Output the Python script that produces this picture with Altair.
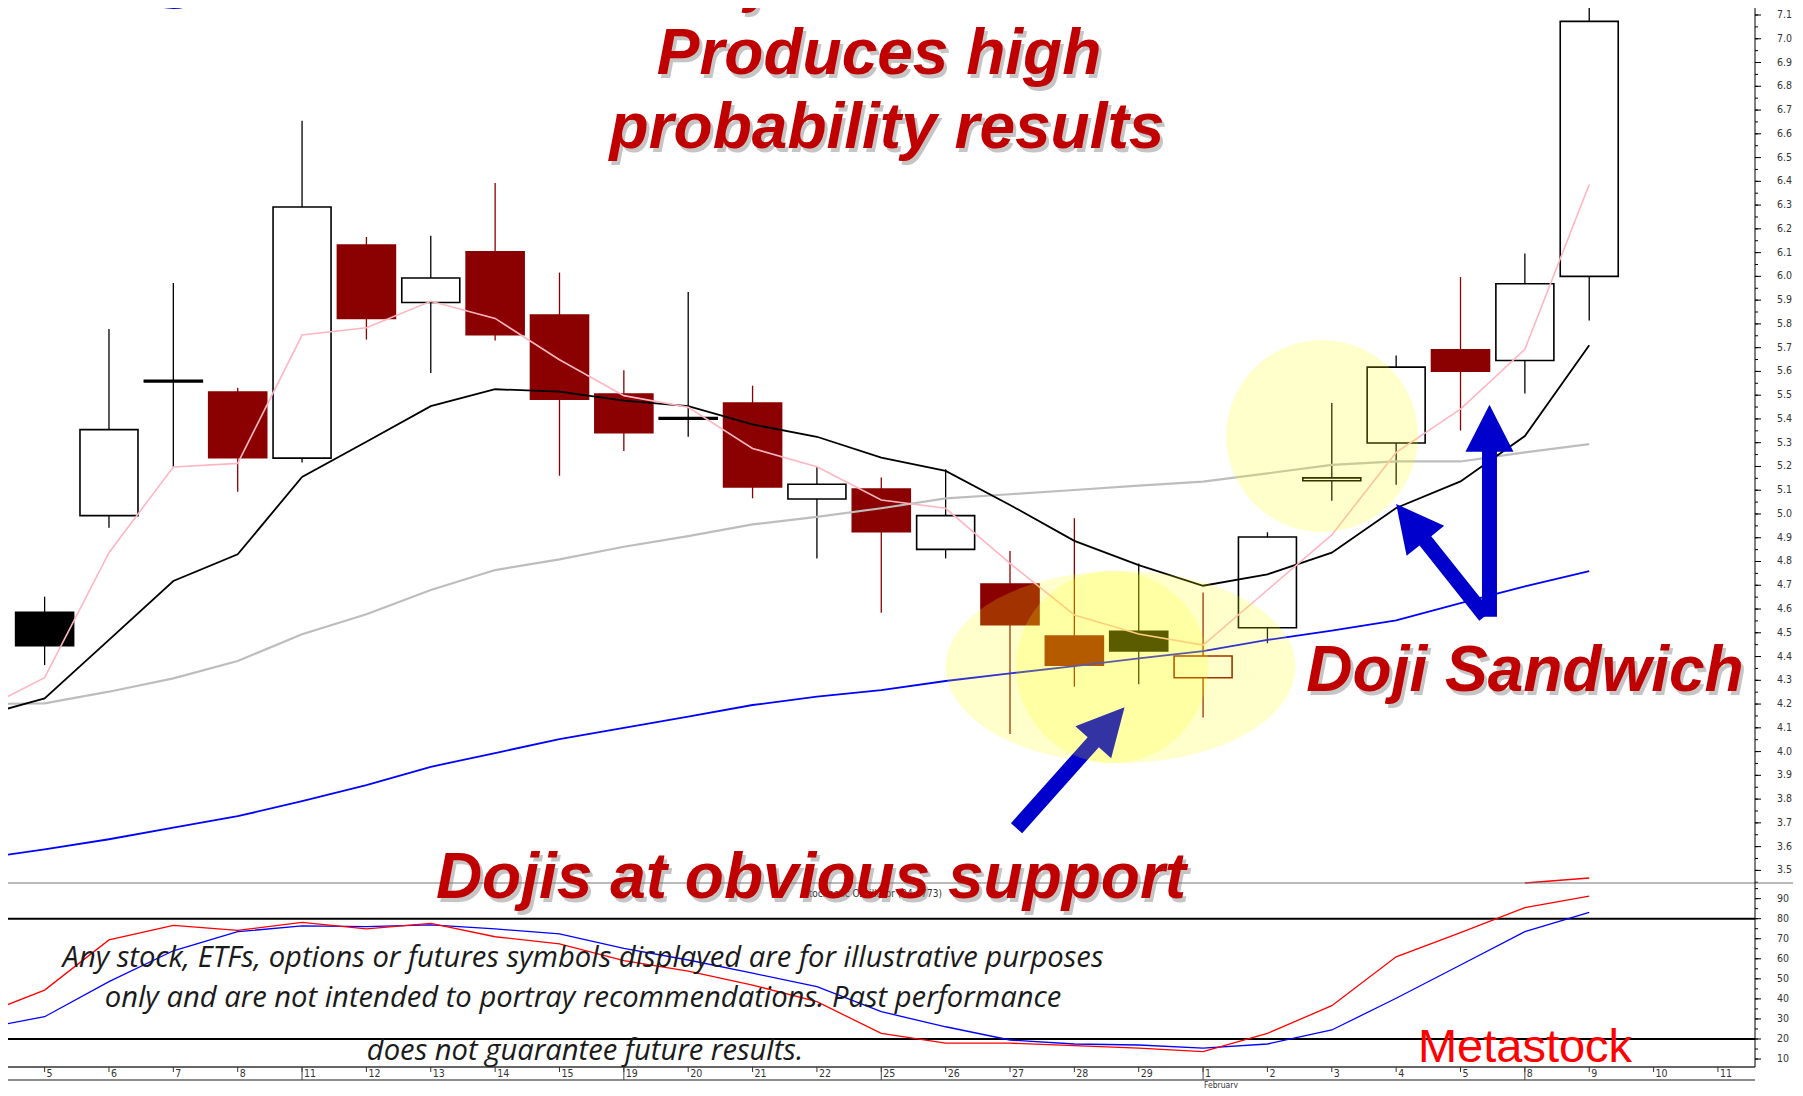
import math
import altair as alt
import pandas as pd

# ---------------- data ----------------
day_labels = ["5", "6", "7", "8", "11", "12", "13", "14", "15", "19", "20", "21", "22",
              "25", "26", "27", "28", "29", "1", "2", "3", "4", "5", "8", "9", "10", "11"]
week_starts = [4, 9, 13, 18, 23]

opens = [4.586, 4.993, 5.556, 5.513, 5.235, 6.132, 5.890, 6.103, 5.837, 5.505, 5.399, 5.467, 5.063,
         5.105, 4.851, 4.705, 4.486, 4.506, 4.311, 4.521, 5.140, 5.299, 5.691, 5.646, 6.000]
highs = [4.652, 5.778, 5.972, 5.531, 6.655, 6.166, 6.171, 6.393, 6.016, 5.605, 5.934, 5.540, 5.199,
         5.154, 5.188, 4.844, 4.982, 4.792, 4.669, 4.923, 5.467, 5.667, 5.997, 6.096, 7.139]
lows = [4.364, 4.942, 5.199, 5.094, 5.217, 5.734, 5.593, 5.730, 5.161, 5.265, 5.325, 5.066, 4.813,
        4.584, 4.813, 4.074, 4.273, 4.283, 4.143, 4.456, 5.056, 5.123, 5.351, 5.507, 5.814]
closes = [4.446, 5.355, 5.563, 5.237, 6.292, 5.823, 5.993, 5.754, 5.483, 5.342, 5.406, 5.114, 5.125,
          4.925, 4.993, 4.534, 4.364, 4.423, 4.402, 4.903, 5.152, 5.618, 5.601, 5.969, 7.073]

ma_idx = list(range(-1, 25))
ma_pink = [4.173, 4.311, 4.837, 5.198, 5.213, 5.753, 5.784, 5.895, 5.823, 5.649, 5.498, 5.449, 5.276,
           5.199, 5.059, 5.024, 4.792, 4.575, 4.495, 4.448, 4.680, 4.912, 5.259, 5.441, 5.693, 6.387]
ma_black = [4.149, 4.224, 4.470, 4.718, 4.830, 5.156, 5.304, 5.454, 5.525, 5.515, 5.477, 5.454, 5.377,
            5.325, 5.237, 5.181, 5.038, 4.887, 4.785, 4.698, 4.746, 4.837, 5.025, 5.137, 5.328, 5.710]
ma_gray = [4.200, 4.203, 4.252, 4.308, 4.381, 4.494, 4.578, 4.680, 4.764, 4.809, 4.862, 4.907, 4.956,
           4.988, 5.024, 5.066, 5.083, 5.101, 5.119, 5.136, 5.171, 5.207, 5.221, 5.221, 5.259, 5.294]
ma_blue = [3.550, 3.588, 3.631, 3.680, 3.728, 3.791, 3.859, 3.936, 3.994, 4.052, 4.100, 4.147, 4.196,
           4.231, 4.259, 4.297, 4.329, 4.360, 4.392, 4.423, 4.470, 4.509, 4.552, 4.625, 4.695, 4.759]
low_red_idx = [23, 24]
low_red = [3.447, 3.468]

stoch_k = [31.8, 44.4, 69.4, 76.7, 74.2, 78.2, 74.9, 77.7, 71.0, 67.4, 59.1, 53.9, 46.9, 38.6,
           22.8, 17.9, 17.9, 16.7, 15.4, 13.7, 22.8, 36.6, 61.0, 73.0, 85.5, 91.3]
stoch_d = [25.1, 31.1, 48.6, 64.0, 73.5, 76.4, 76.0, 76.9, 74.9, 72.4, 65.2, 59.4, 52.8, 46.1,
           33.6, 26.1, 19.5, 17.5, 17.0, 15.4, 17.5, 24.5, 40.3, 56.9, 73.5, 83.2]

price_labels = [round(3.5 + 0.1 * k, 1) for k in range(37)]
price_minor = [round(3.45 + 0.05 * k, 2) for k in range(74)]
stoch_labels = [10, 20, 30, 40, 50, 60, 70, 80, 90]
stoch_minor = [5 * k for k in range(2, 20)]

# ---------------- layout ----------------
W, H = 1747, 1059
xs = alt.Scale(domain=[-0.4913, 26.498], nice=False, zero=False)
ps = alt.Scale(domain=[2.6725, 7.1295], nice=False, zero=False)
ss = alt.Scale(domain=[6.03, 534.2], nice=False, zero=False)
NARROW = "Liberation Sans Narrow, DejaVu Sans Condensed, Liberation Sans, sans-serif"
RED_TXT = "#C00000"
DARKRED = "#8B0000"

candles = pd.DataFrame({"i": list(range(len(opens))), "o": opens, "h": highs, "l": lows, "c": closes})
cols, fills = [], []
for k in range(len(closes)):
    up = k == 0 or closes[k] >= closes[k - 1]
    col = "#000000" if up else DARKRED
    cols.append(col)
    fills.append(col if closes[k] < opens[k] else "#FFFFFF")
candles["col"] = cols
candles["fill"] = fills
candles["lo"] = candles[["o", "c"]].min(axis=1)
candles["hi"] = candles[["o", "c"]].max(axis=1)

X = lambda: alt.X("i:Q", scale=xs, axis=None)

wicks = alt.Chart(candles).mark_rule(strokeWidth=1.3, clip=True).encode(
    x=X(), y=alt.Y("l:Q", scale=ps, axis=None), y2="h:Q",
    color=alt.Color("col:N", scale=None))
bodies = alt.Chart(candles).mark_bar(size=58, strokeWidth=1.6, clip=True).encode(
    x=X(), y=alt.Y("lo:Q", scale=ps, axis=None), y2="hi:Q",
    fill=alt.Fill("fill:N", scale=None), stroke=alt.Stroke("col:N", scale=None))


def line(idx, vals, scale, color, width):
    df = pd.DataFrame({"i": idx, "v": vals})
    return alt.Chart(df).mark_line(color=color, strokeWidth=width, clip=True).encode(
        x=X(), y=alt.Y("v:Q", scale=scale, axis=None))


price_lines = [
    line(ma_idx, ma_gray, ps, "#BDBDBD", 2.2),
    line(ma_idx, ma_blue, ps, "#0000FF", 1.8),
    line(ma_idx, ma_black, ps, "#000000", 1.8),
    line(ma_idx, ma_pink, ps, "#FFB6C1", 1.6),
    line(low_red_idx, low_red, ps, "#FF0000", 1.6),
]


def ellipse_path(ratio, n=72):
    pts = [(math.cos(2 * math.pi * k / n), ratio * math.sin(2 * math.pi * k / n)) for k in range(n)]
    return "M" + " L".join(f"{a:.4f},{b:.4f}" for a, b in pts) + " Z"


def blob(ci, cp, rx, ry, opacity=0.2):
    df = pd.DataFrame({"i": [ci], "p": [cp]})
    return alt.Chart(df).mark_point(shape=ellipse_path(ry / rx), size=4 * rx * rx, filled=True,
                                    color="#FFFF00", opacity=opacity, strokeWidth=0).encode(
        x=X(), y=alt.Y("p:Q", scale=ps, axis=None))


def arrow_path(tx, ty, head_len, head_half, shaft_half):
    L = math.hypot(tx, ty)
    ux, uy = -tx / L, -ty / L
    nx, ny = -uy, ux
    bx, by = -ux * head_len, -uy * head_len
    pts = [(0, 0), (bx + nx * head_half, by + ny * head_half), (bx + nx * shaft_half, by + ny * shaft_half),
           (tx + nx * shaft_half, ty + ny * shaft_half), (tx - nx * shaft_half, ty - ny * shaft_half),
           (bx - nx * shaft_half, by - ny * shaft_half), (bx - nx * head_half, by - ny * head_half)]
    return "M" + " L".join(f"{a:.2f},{b:.2f}" for a, b in pts) + " Z"


def arrow(ci, cp, tail_dx, tail_dy):
    df = pd.DataFrame({"i": [ci], "p": [cp]})
    return alt.Chart(df).mark_point(shape=arrow_path(tail_dx, tail_dy, 47, 24, 7.5), size=4, filled=True,
                                    color="#0000CC", opacity=1, strokeWidth=0).encode(
        x=X(), y=alt.Y("p:Q", scale=ps, axis=None))


annot = [
    blob(16.717, 4.356, 175, 96),
    arrow(16.78, 4.187, -108, 121),
    blob(16.586, 4.356, 96, 96),
    blob(19.85, 5.328, 96, 96),
    arrow(22.45, 5.460, 0, 212),
    arrow(21.0, 5.042, 89, 112),
]


def yaxis(labels, minor, scale, fmt):
    lab = pd.DataFrame({"v": labels, "t": [fmt(v) for v in labels]})
    mn = pd.DataFrame({"v": minor})
    major = alt.Chart(lab).mark_rule(color="#000000", strokeWidth=1).encode(
        x=alt.value(W), x2=alt.value(W + 6), y=alt.Y("v:Q", scale=scale, axis=None))
    minor_r = alt.Chart(mn).mark_rule(color="#000000", strokeWidth=1).encode(
        x=alt.value(W), x2=alt.value(W + 3), y=alt.Y("v:Q", scale=scale, axis=None))
    texts = alt.Chart(lab).mark_text(align="left", baseline="middle", font=NARROW, fontSize=10.5,
                                     color="#333333").encode(
        x=alt.value(W + 22), y=alt.Y("v:Q", scale=scale, axis=None), text="t:N")
    return [major, minor_r, texts]


price_layer = alt.layer(wicks, bodies, *price_lines, *annot,
                        *yaxis(price_labels, price_minor, ps, lambda v: f"{v:.1f}"))

level = pd.DataFrame({"v": [80, 20]})
levels = alt.Chart(level).mark_rule(color="#000000", strokeWidth=2).encode(
    x=alt.value(0), x2=alt.value(W), y=alt.Y("v:Q", scale=ss, axis=None))
stoch_layer = alt.layer(
    levels,
    line(ma_idx, stoch_d, ss, "#0000FF", 1.3),
    line(ma_idx, stoch_k, ss, "#FF0000", 1.3),
    *yaxis(stoch_labels, stoch_minor, ss, lambda v: f"{v}"),
)

# ---------------- x axis (drawn) ----------------
xl = pd.DataFrame({"i": list(range(len(day_labels))), "t": day_labels})
x_ticks = alt.Chart(xl).mark_rule(color="#333333", strokeWidth=1).encode(
    x=X(), y=alt.value(H), y2=alt.value(H + 5))
x_text = alt.Chart(xl).mark_text(align="left", baseline="top", dx=2, font=NARROW, fontSize=10.5,
                                 color="#333333").encode(x=X(), y=alt.value(H + 2), text="t:N")
wk = pd.DataFrame({"i": week_starts})
wk_lines = alt.Chart(wk).mark_rule(color="#444444", strokeWidth=1).encode(
    x=X(), y=alt.value(H), y2=alt.value(H + 13))
month = alt.Chart(pd.DataFrame({"i": [18], "t": ["February"]})).mark_text(
    align="left", baseline="top", dx=1, font=NARROW, fontSize=8.5, color="#333333").encode(
    x=X(), y=alt.value(H + 13.5), text="t:N")

frame = alt.Chart(pd.DataFrame({"a": [0]})).mark_rule(color="#666666", strokeWidth=2).encode(
    x=alt.value(0), x2=alt.value(W), y=alt.value(H))
frame_bottom = alt.Chart(pd.DataFrame({"a": [0]})).mark_rule(color="#666666", strokeWidth=1.5).encode(
    x=alt.value(0), x2=alt.value(W), y=alt.value(H + 13))
right_line = alt.Chart(pd.DataFrame({"a": [0]})).mark_rule(color="#000000", strokeWidth=1).encode(
    x=alt.value(W), y=alt.value(0), y2=alt.value(H))
separator = alt.Chart(pd.DataFrame({"a": [0]})).mark_rule(color="#777777", strokeWidth=1).encode(
    x=alt.value(0), x2=alt.value(W + 38), y=alt.value(875))


# ---------------- texts ----------------
def txt(s, x, y, size, color, weight="normal", style="normal", font="Liberation Sans",
        align="center", opacity=1.0):
    return alt.Chart(pd.DataFrame({"t": [s]})).mark_text(
        align=align, baseline="alphabetic", fontSize=size, font=font, fontWeight=weight,
        fontStyle=style, color=color, opacity=opacity).encode(
        x=alt.value(x), y=alt.value(y), text="t:N")


def red(s, x, y):
    return [txt(s, x + 3, y + 4, 64, "#7F7F7F", "bold", "italic", opacity=0.45),
            txt(s, x, y, 64, RED_TXT, "bold", "italic")]


DISC = "Open Sans, Lato, sans-serif"
DS = 29.2
texts = [
    txt("Stochastic Oscillator (94.4773)", 934, 889, 10, "#333333", font=NARROW, align="right"),
    txt("ONEK", 282, 0, 110, "#0000CC", "bold"),
    *red("Doji formation", 872, -8),
    *red("Produces high", 871, 66),
    *red("probability results", 879, 140),
    *red("Dojis at obvious support", 803, 890),
    *red("Doji Sandwich", 1517, 683),
    txt("Any stock, ETFs, options or futures symbols displayed are for illustrative purposes",
        575, 959, DS, "#1A1A1A", style="italic", font=DISC),
    txt("only and are not intended to portray recommendations. Past performance",
        575, 999, DS, "#1A1A1A", style="italic", font=DISC),
    txt("does not guarantee future results.", 577, 1052, DS, "#1A1A1A", style="italic", font=DISC),
    txt("Metastock", 1517, 1054, 47, "#FF0000"),
]

chart = alt.layer(
    price_layer, stoch_layer, separator, frame, frame_bottom, right_line,
    x_ticks, x_text, wk_lines, month, *texts,
).resolve_scale(y="independent").properties(
    width=W, height=H,
    padding={"left": 0, "top": 0, "right": 38, "bottom": 21},
    autosize=alt.AutoSizeParams(type="none"),
    background="#FFFFFF",
).configure_view(strokeWidth=0)

chart.save("out.html", embed_options={"renderer": "svg", "actions": False})
